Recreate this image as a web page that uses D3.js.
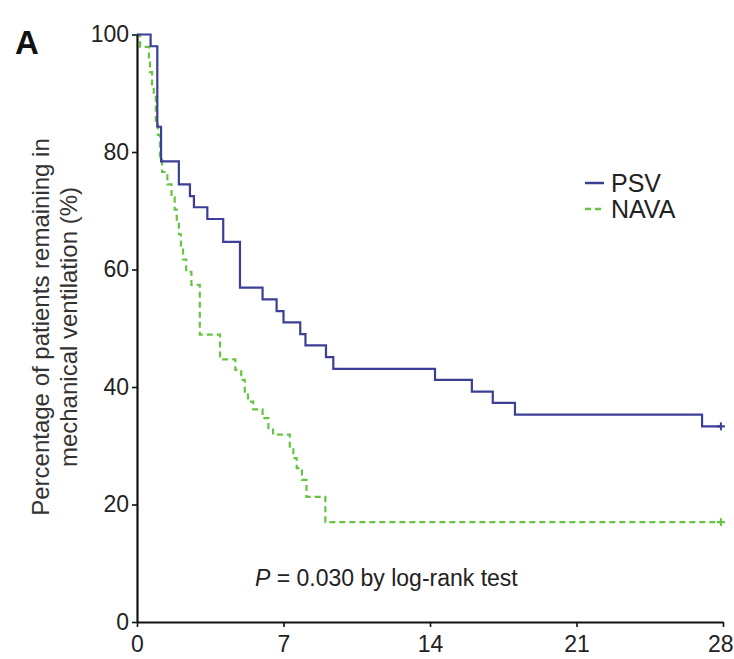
<!DOCTYPE html>
<html>
<head>
<meta charset="utf-8">
<script src="https://cdn.jsdelivr.net/npm/d3@7/dist/d3.min.js"></script>
<style>
  html, body { margin: 0; padding: 0; background: #fff; }
  svg { display: block; font-family: "Liberation Sans", Arial, sans-serif; }
</style>
</head>
<body>
<svg id="chart" width="734" height="659"></svg>
<script>
// ---- Data ----
const xTicks = [0, 7, 14, 21, 28];
const yTicks = [0, 20, 40, 60, 80, 100];

const psvDays = [0, 0.65, 0.97, 1.15, 2.0, 2.53, 2.72, 3.36, 4.12, 4.92, 6.0, 6.67, 7.0, 7.8, 8.05, 9.03, 9.38, 14.24, 16.0, 17.0, 18.06, 27.0, 27.9];
const psvPct  = [100, 98.0, 84.3, 78.4, 74.5, 72.5, 70.6, 68.6, 64.7, 56.9, 54.9, 52.9, 51.0, 49.0, 47.1, 45.1, 43.1, 41.2, 39.2, 37.3, 35.3, 33.3, 33.3];

const navaDays = [0, 0.15, 0.57, 0.62, 0.72, 0.8, 0.9, 1.0, 1.1, 1.2, 1.45, 1.65, 1.8, 1.9, 2.0, 2.1, 2.2, 2.35, 2.6, 3.0, 3.97, 4.7, 4.98, 5.15, 5.3, 5.55, 6.0, 6.28, 6.5, 7.3, 7.47, 7.63, 7.88, 8.1, 9.0, 27.9];
const navaPct  = [100, 97.9, 95.7, 93.6, 91.5, 89.4, 85.1, 82.9, 78.7, 76.6, 74.5, 72.3, 70.2, 68.1, 66.0, 63.8, 61.7, 59.6, 57.4, 48.9, 44.7, 42.9, 41.2, 39.2, 37.5, 36.2, 34.7, 33.0, 31.9, 29.6, 27.9, 26.2, 24.2, 21.3, 17.0, 17.0];

const seriesNames = ["PSV", "NAVA"];
const pText = " = 0.030 by log-rank test";
const yTitle = ["Percentage of patients remaining in", "mechanical ventilation (%)"];

// ---- Drawing ----
const svg = d3.select("#chart");
const x = d3.scaleLinear().domain([0, 28]).range([137, 723]);
const y = d3.scaleLinear().domain([0, 100]).range([622, 34.5]);

const blue = "#3b3f95";
const green = "#66c443";

// curves
const line = d3.line().x(d => x(d[0])).y(d => y(d[1])).curve(d3.curveStepAfter);
const psv = psvDays.map((d, i) => [d, psvPct[i]]);
const nava = navaDays.map((d, i) => [d, navaPct[i]]);

svg.append("path").datum(nava).attr("d", line)
  .attr("fill", "none").attr("stroke", green).attr("stroke-width", 2.2)
  .attr("stroke-dasharray", "6,4");
svg.append("path").datum(psv).attr("d", line)
  .attr("fill", "none").attr("stroke", blue).attr("stroke-width", 2.2);

// censor marks
function plus(cx, cy, col) {
  svg.append("line").attr("x1", cx - 4).attr("x2", cx + 4).attr("y1", cy).attr("y2", cy)
    .attr("stroke", col).attr("stroke-width", 2.2);
  svg.append("line").attr("x1", cx).attr("x2", cx).attr("y1", cy - 4).attr("y2", cy + 4)
    .attr("stroke", col).attr("stroke-width", 2);
}
plus(x(psvDays[psvDays.length - 1]), y(psvPct[psvPct.length - 1]), blue);
plus(x(navaDays[navaDays.length - 1]), y(navaPct[navaPct.length - 1]), green);

// axes
const xAxis = d3.axisBottom(x).tickValues(xTicks).tickSize(5).tickSizeOuter(0);
const yAxis = d3.axisLeft(y).tickValues(yTicks).tickSize(5).tickSizeOuter(0);

const gx = svg.append("g").attr("transform", "translate(0,622)").call(xAxis);
gx.select(".domain").attr("stroke", "#111").attr("stroke-width", 2.2);
gx.selectAll(".tick line").attr("stroke", "#111").attr("stroke-width", 1.6);
gx.selectAll(".tick text").attr("font-size", 23).attr("fill", "#222").attr("dy", "0.95em")
  .attr("x", d => d === 28 ? 10 : 0)
  .attr("text-anchor", d => d === 28 ? "end" : "middle");

const gy = svg.append("g").attr("transform", "translate(137,0)").call(yAxis);
gy.select(".domain").attr("stroke", "#111").attr("stroke-width", 2.2);
gy.selectAll(".tick line").attr("stroke", "#111").attr("stroke-width", 1.6);
gy.selectAll(".tick text").attr("font-size", 23).attr("fill", "#222").attr("x", -8);

// y title
const yt = svg.append("g").attr("transform", "translate(0,327) rotate(-90)");
yt.append("text").attr("x", 0).attr("y", 49).attr("text-anchor", "middle")
  .attr("font-size", 24).attr("fill", "#333").text(yTitle[0]);
yt.append("text").attr("x", 0).attr("y", 77).attr("text-anchor", "middle")
  .attr("font-size", 24).attr("fill", "#333").text(yTitle[1]);

// panel letter
svg.append("text").attr("x", 15).attr("y", 54).attr("font-size", 33)
  .attr("font-weight", "bold").attr("fill", "#111").text("A");

// p-value
const pt = svg.append("text").attr("x", 255).attr("y", 586).attr("font-size", 23).attr("fill", "#222");
pt.append("tspan").attr("font-style", "italic").text("P");
pt.append("tspan").text(pText);

// legend
const lg = svg.append("g");
lg.append("line").attr("x1", 585).attr("x2", 604).attr("y1", 183).attr("y2", 183)
  .attr("stroke", blue).attr("stroke-width", 2.5);
lg.append("line").attr("x1", 585).attr("x2", 604).attr("y1", 209).attr("y2", 209)
  .attr("stroke", green).attr("stroke-width", 2.5).attr("stroke-dasharray", "6,4");
lg.append("text").attr("x", 611).attr("y", 192).attr("font-size", 25).attr("fill", "#222").text(seriesNames[0]);
lg.append("text").attr("x", 611).attr("y", 218).attr("font-size", 25).attr("fill", "#222").text(seriesNames[1]);
</script>
</body>
</html>
